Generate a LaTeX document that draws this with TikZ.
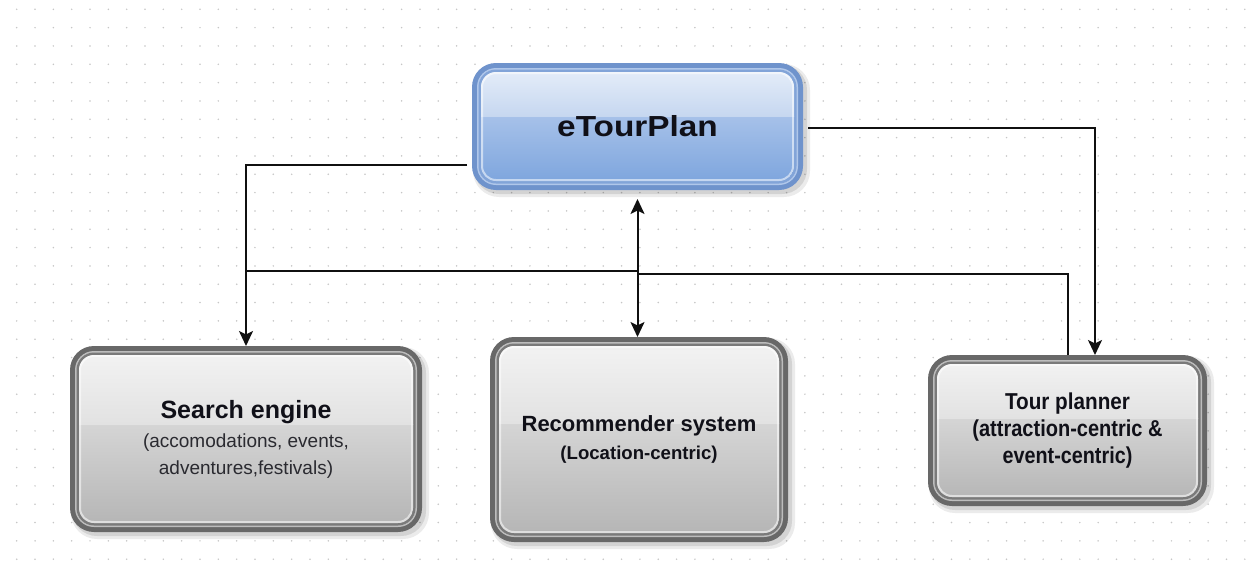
\documentclass[tikz,border=0pt]{standalone}
\usepackage{fontspec}
\setmainfont{Liberation Sans}
\usepackage{graphicx}
\usetikzlibrary{arrows.meta,calc}

\pgfdeclarelayer{base}
\pgfdeclarelayer{bg}
\pgfsetlayers{base,bg,main}

% dot grid and text
\definecolor{dotc}{HTML}{C6C6C6}
\definecolor{ink}{HTML}{101018}
\definecolor{subink}{HTML}{2A2A30}
\definecolor{wire}{HTML}{101010}
% grey glossy palette
\definecolor{grayrim}{HTML}{686868}
\definecolor{graygap}{HTML}{BDBDBD}
\definecolor{grayline}{HTML}{7A7A7A}
\definecolor{grayhi}{HTML}{F4F4F4}
\definecolor{graymid}{HTML}{E2E2E2}
\definecolor{graylt}{HTML}{D5D5D5}
\definecolor{graylo}{HTML}{B3B3B3}
% blue glossy palette
\definecolor{bluerim}{HTML}{6F93CC}
\definecolor{bluegap}{HTML}{B0C7EA}
\definecolor{blueline}{HTML}{82A4D8}
\definecolor{bluehi}{HTML}{E9F0FA}
\definecolor{bluemid}{HTML}{C6D7F0}
\definecolor{bluelt}{HTML}{A6C1E9}
\definecolor{bluelo}{HTML}{79A2DC}

% glossy rounded panel behind a named node; #2 = palette prefix
\newcommand\glosspanel[2]{%
  \begin{pgfonlayer}{bg}
    \fill[black,opacity=0.08,rounded corners=26pt]
      ($(#1.south west)+(1pt,-7pt)$) rectangle ($(#1.north east)+(7pt,-1pt)$);
    \fill[black,opacity=0.10,rounded corners=25pt]
      ($(#1.south west)+(2pt,-4pt)$) rectangle ($(#1.north east)+(4pt,-2pt)$);
    \fill[#2rim,rounded corners=24pt] (#1.south west) rectangle (#1.north east);
    \fill[#2gap,rounded corners=19pt]
      ($(#1.south west)+(5pt,5pt)$) rectangle ($(#1.north east)+(-5pt,-5pt)$);
    \fill[#2line,rounded corners=17.5pt]
      ($(#1.south west)+(6.5pt,6.5pt)$) rectangle ($(#1.north east)+(-6.5pt,-6.5pt)$);
    \coordinate (#1-split) at ($(#1.north west)!0.42!(#1.south west)$);
    \begin{scope}
      \clip[rounded corners=15pt]
        ($(#1.south west)+(9pt,9pt)$) rectangle ($(#1.north east)+(-9pt,-9pt)$);
      \shade[top color=#2lt,bottom color=#2lo] (#1.south west) rectangle (#1-split -| #1.east);
      \shade[top color=#2hi,bottom color=#2mid] (#1-split) rectangle (#1.north east);
      \draw[white,opacity=0.55,line width=2pt,rounded corners=14pt]
        ($(#1.south west)+(10pt,10pt)$) rectangle ($(#1.north east)+(-10pt,-10pt)$);
    \end{scope}
  \end{pgfonlayer}}

\tikzset{
  panel/.style={rectangle,inner sep=0pt,outer sep=0pt,align=center,text=ink},
  conn/.style={draw=wire,line width=2pt},
  tip/.tip={Stealth[length=15pt,width=14pt,inset=3.5pt]},
  arr/.style={conn,-tip},
  dblarr/.style={conn,tip-tip},
}

\begin{document}
\begin{tikzpicture}[x=1pt,y=-1pt]
  \useasboundingbox (0,0) rectangle (1248,576);

  % paper with its dot grid
  \begin{pgfonlayer}{base}
    \fill[white] (0,0) rectangle (1248,576);
    \foreach \i in {0,...,67}
      \foreach \j in {0,...,30}
        \fill[dotc] (16.7+18.33*\i,9.3+18.33*\j) circle (0.85pt);
  \end{pgfonlayer}

  % panels
  \node[panel,minimum width=331pt,minimum height=127pt] (etp) at (637.5,126.5)
    {\raisebox{-3.3pt}{\scalebox{1.15}[1]{\fontsize{29}{30}\selectfont\bfseries eTourPlan}}};

  \node[panel,minimum width=352pt,minimum height=186pt,
        font=\fontsize{19}{27}\selectfont] (se) at (246,439)
    {{\fontsize{25}{29}\selectfont\bfseries Search engine}\\[2pt]
     \textcolor{subink}{(accomodations, events,}\\
     \textcolor{subink}{adventures,festivals)}};

  \node[panel,minimum width=298pt,minimum height=205pt,
        font=\fontsize{18.6}{28}\selectfont\bfseries] (rs) at (639,439.5)
    {{\fontsize{22}{28}\selectfont Recommender system}\\(Location-centric)};

  \node[panel,minimum width=279pt,minimum height=151pt,
        font=\fontsize{23}{26.7}\selectfont\bfseries] (tp) at (1067.5,430.5)
    {\scalebox{0.9}[1]{Tour planner}\\
     \scalebox{0.87}[1]{(attraction-centric \&}\\
     \scalebox{0.86}[1]{event-centric)}};

  \glosspanel{etp}{blue}
  \glosspanel{se}{gray}
  \glosspanel{rs}{gray}
  \glosspanel{tp}{gray}

  % junction points on the central link
  \coordinate (jl) at (637.5,270.7);
  \coordinate (jr) at (637.5,274.3);

  % connectors
  \draw[arr,shorten <=5pt] ([yshift=-38.5pt]etp.west) -| (se.north);
  \draw[arr,shorten <=5pt] ([yshift=-1.5pt]etp.east) -| ([xshift=27.5pt]tp.north);
  \draw[dblarr,shorten <=9pt] (etp.south) -- (etp.south |- rs.north);
  \draw[conn] (se.north |- jl) -- (jl);
  \draw[conn] (tp.north) |- (jr);
\end{tikzpicture}
\end{document}
